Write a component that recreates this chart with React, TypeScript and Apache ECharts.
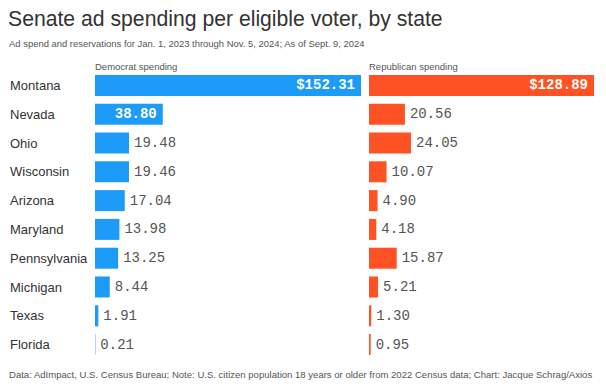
import React, { useEffect, useRef } from "react";
import * as echarts from "echarts";

const states = ["Montana", "Nevada", "Ohio", "Wisconsin", "Arizona", "Maryland", "Pennsylvania", "Michigan", "Texas", "Florida"];
const demValues = [152.31, 38.8, 19.48, 19.46, 17.04, 13.98, 13.25, 8.44, 1.91, 0.21];
const repValues = [128.89, 20.56, 24.05, 10.07, 4.9, 4.18, 15.87, 5.21, 1.3, 0.95];
const demInside = [true, true, false, false, false, false, false, false, false, false];
const repInside = [true, false, false, false, false, false, false, false, false, false];

const BLUE = "#1d9bf8";
const RED = "#ff5224";
const MONO = "'Liberation Mono', 'DejaVu Sans Mono', monospace";
const SANS = "'Liberation Sans', Arial, sans-serif";

function buildData(values: number[], inside: boolean[]) {
  return values.map((v, i) => ({
    value: v,
    label: inside[i]
      ? { position: "insideRight", color: "#ffffff", fontWeight: "bold", distance: 6 }
      : { position: "right", color: "#555555", distance: 5 },
  }));
}

export default function App() {
  const ref = useRef<HTMLDivElement>(null);
  useEffect(() => {
    if (!ref.current) return;
    const chart = echarts.init(ref.current, undefined, { renderer: "svg" });
    const labelBase = {
      show: true,
      fontFamily: MONO,
      fontSize: 14,
      formatter: (p: any) => (p.dataIndex === 0 ? "$" : "") + p.value.toFixed(2),
    };
    chart.setOption({
      animation: false,
      backgroundColor: "#ffffff",
      title: [
        { text: "Senate ad spending per eligible voter, by state", left: 8, top: 8, padding: 0,
          textStyle: { fontFamily: SANS, fontSize: 21.2, fontWeight: "normal", color: "#333333" } },
        { text: "Ad spend and reservations for Jan. 1, 2023 through Nov. 5, 2024; As of Sept. 9, 2024", left: 9, top: 39, padding: 0,
          textStyle: { fontFamily: SANS, fontSize: 9.45, fontWeight: "normal", color: "#555555" } },
        { text: "Democrat spending", left: 95, top: 61, padding: 0,
          textStyle: { fontFamily: SANS, fontSize: 9.5, fontWeight: "normal", color: "#555555" } },
        { text: "Republican spending", left: 369, top: 61, padding: 0,
          textStyle: { fontFamily: SANS, fontSize: 9.5, fontWeight: "normal", color: "#555555" } },
        { text: "Data: AdImpact, U.S. Census Bureau; Note: U.S. citizen population 18 years or older from 2022 Census data; Chart: Jacque Schrag/Axios", left: 9, top: 369, padding: 0,
          textStyle: { fontFamily: SANS, fontSize: 9.55, fontWeight: "normal", color: "#555555" } },
      ],
      grid: [
        { left: 95, top: 71, width: 266, height: 288 },
        { left: 369, top: 71, width: 225, height: 288 },
      ],
      xAxis: [
        { gridIndex: 0, type: "value", min: 0, max: demValues[0], show: false },
        { gridIndex: 1, type: "value", min: 0, max: repValues[0], show: false },
      ],
      yAxis: [
        { gridIndex: 0, type: "category", data: states, inverse: true,
          axisLine: { show: false }, axisTick: { show: false }, splitLine: { show: false },
          axisLabel: { align: "left", margin: 85, fontFamily: SANS, fontSize: 13, color: "#333333" } },
        { gridIndex: 1, type: "category", data: states, inverse: true, show: false },
      ],
      series: [
        { type: "bar", xAxisIndex: 0, yAxisIndex: 0, barWidth: 21, itemStyle: { color: BLUE },
          label: labelBase, data: buildData(demValues, demInside) },
        { type: "bar", xAxisIndex: 1, yAxisIndex: 1, barWidth: 21, itemStyle: { color: RED },
          label: labelBase, data: buildData(repValues, repInside) },
      ],
    });
    return () => chart.dispose();
  }, []);
  return <div ref={ref} style={{ position: "fixed", left: 0, top: 0, width: 606, height: 388 }} />;
}
